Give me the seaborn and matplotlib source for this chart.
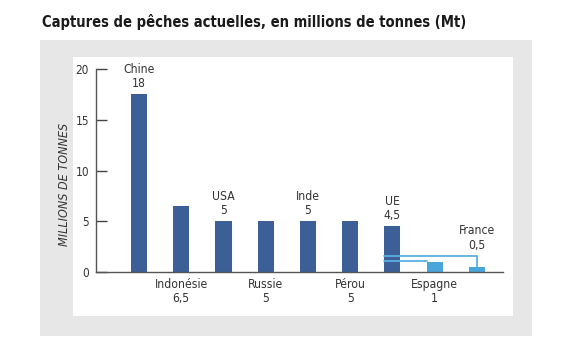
import matplotlib
matplotlib.use('Agg')
import matplotlib.pyplot as plt
import seaborn as sns
import pandas as pd
from matplotlib.patches import Rectangle

# Données
pays = ['Chine', 'Indonésie', 'USA', 'Russie', 'Inde', 'Pérou', 'UE', 'Espagne', 'France']
captures = [17.5, 6.5, 5, 5, 5, 5, 4.5, 1, 0.5]
etiquettes = ['18', '6,5', '5', '5', '5', '5', '4,5', '1', '0,5']
position = ['haut', 'bas', 'haut', 'bas', 'haut', 'bas', 'haut', 'bas', 'haut']
couleurs = ['#3c5f98'] * 7 + ['#4aa6da'] * 2

df = pd.DataFrame({'pays': pays, 'captures': captures})

sns.set_style('white')
plt.rcParams['font.family'] = ['DejaVu Sans']
plt.rcParams['font.stretch'] = 'condensed'

W, H = 574, 359
fig = plt.figure(figsize=(W / 100, H / 100), dpi=100)
fig.patch.set_facecolor('white')

# Fond gris et panneau blanc
fig.patches.append(Rectangle((40 / W, 1 - 336 / H), (532 - 40) / W, (336 - 40) / H,
                             transform=fig.transFigure, facecolor='#e7e7e7', edgecolor='none', zorder=-10))
fig.patches.append(Rectangle((73 / W, 1 - 316 / H), (513 - 73) / W, (316 - 57) / H,
                             transform=fig.transFigure, facecolor='white', edgecolor='none', zorder=-9))

fig.text(42 / W, 1 - 22 / H, 'Captures de pêches actuelles, en millions de tonnes (Mt)',
         fontsize=10.5, fontweight='bold', color='#1a1a1a', va='center', ha='left')

ax = fig.add_axes([96 / W, 1 - 272 / H, (503 - 96) / W, (272 - 69) / H])
ax.patch.set_alpha(0)

sns.barplot(data=df, x='pays', y='captures', hue='pays', palette=couleurs,
            legend=False, width=0.38, ax=ax, saturation=1, linewidth=0)

ax.set_xlim(-1.02, 8.62)
ax.set_ylim(0, 20)
ax.set_yticks([0, 5, 10, 15, 20])
ax.set_xticks([])
ax.set_xlabel('')
ax.set_ylabel('MILLIONS DE TONNES', fontsize=9, fontstyle='italic', color='#333333')
ax.yaxis.set_label_coords(-0.061, 0.43)
ax.tick_params(axis='y', left=True, direction='in', length=8, width=1, colors='#444444',
               labelcolor='#333333', labelsize=8.5, pad=5)
for s in ['top', 'right']:
    ax.spines[s].set_visible(False)
for s in ['left', 'bottom']:
    ax.spines[s].set_color('#555555')
    ax.spines[s].set_linewidth(1)

barres = ax.patches

# Crochets reliant l'UE à l'Espagne et la France
clair = '#5ab0e0'
ue, esp, fra = barres[6], barres[7], barres[8]
y_fra = 1.58
y_esp = esp.get_height() + 0.08
x_ue = ue.get_x()
x_fra = fra.get_x() + fra.get_width() / 2
ax.plot([x_ue, x_fra, x_fra], [y_fra, y_fra, fra.get_height()], color=clair, lw=1.3, zorder=3)
ax.plot([x_ue, esp.get_x()], [y_esp, y_esp], color=clair, lw=1.3, zorder=3)

# Étiquettes
for i, b in enumerate(barres):
    xc = b.get_x() + b.get_width() / 2
    texte = f'{pays[i]}\n{etiquettes[i]}'
    if position[i] == 'haut':
        base = y_fra if pays[i] == 'France' else b.get_height()
        ax.annotate(texte, (xc, base), xytext=(0, 3), textcoords='offset points',
                    ha='center', va='bottom', fontsize=8.7, color='#333333',
                    linespacing=1.15, annotation_clip=False)
    else:
        ax.annotate(texte, (xc, 0), xytext=(0, -4), textcoords='offset points',
                    ha='center', va='top', fontsize=8.7, color='#333333',
                    linespacing=1.15, annotation_clip=False)

plt.savefig('out.png', dpi=100)
